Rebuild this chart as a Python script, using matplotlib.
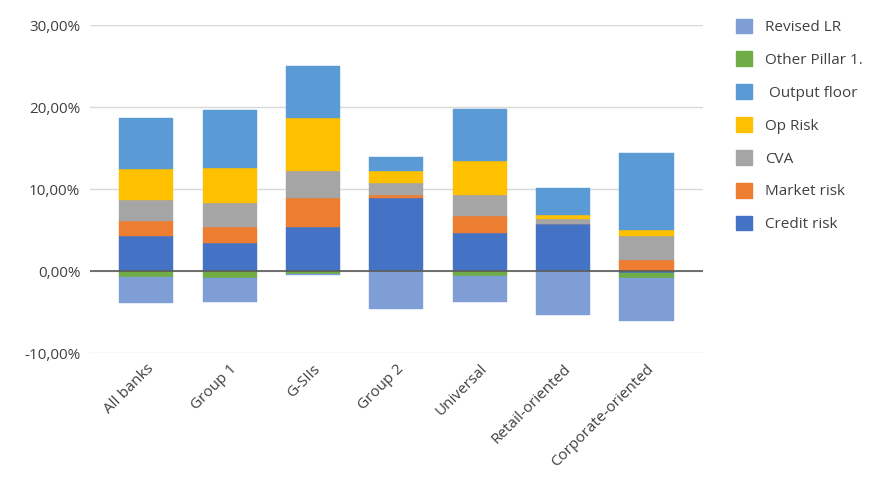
import numpy as np
import matplotlib.pyplot as plt
import matplotlib.patches as mpatches
from matplotlib.ticker import FuncFormatter

plt.rcParams['font.family'] = ['Open Sans', 'DejaVu Sans']

groups = ['All banks', 'Group 1', 'G-SIIs', 'Group 2', 'Universal',
          'Retail-oriented', 'Corporate-oriented']

# values in percent
credit_risk = [4.3, 3.4, 5.4, 8.9, 4.6, 5.7, -0.3]
market_risk = [1.8, 2.0, 3.5, 0.35, 2.1, 0.05, 1.35]
cva = [2.55, 2.9, 3.3, 1.5, 2.55, 0.55, 2.9]
op_risk = [3.75, 4.25, 6.4, 1.45, 4.15, 0.55, 0.8]
output_floor = [6.3, 7.1, 6.4, 1.75, 6.3, 3.3, 9.4]
other_pillar = [-0.7, -0.8, -0.35, -0.05, -0.6, -0.05, -0.5]
revised_lr = [-3.2, -2.95, -0.1, -4.6, -3.15, -5.3, -5.3]

series = [
    ('Credit risk', credit_risk, '#4472C4'),
    ('Market risk', market_risk, '#ED7D31'),
    ('CVA', cva, '#A5A5A5'),
    ('Op Risk', op_risk, '#FFC000'),
    (' Output floor', output_floor, '#5B9BD5'),
    ('Other Pillar 1.', other_pillar, '#70AD47'),
    ('Revised LR', revised_lr, '#7F9ED6'),
]

fig = plt.figure(figsize=(8.74, 4.82), dpi=100)
ax = fig.add_axes([0.103, 0.2676, 0.701, 0.6805])

x = np.arange(len(groups))
pos_base = np.zeros(len(groups))
neg_base = np.zeros(len(groups))
handles = []
for name, vals, col in series:
    v = np.array(vals, dtype=float)
    bottom = np.where(v >= 0, pos_base, neg_base)
    ax.bar(x, v, 0.65, bottom=bottom, color=col, edgecolor=col, linewidth=0.3, zorder=3)
    pos_base = pos_base + np.where(v >= 0, v, 0)
    neg_base = neg_base + np.where(v < 0, v, 0)
    handles.append(mpatches.Patch(color=col, label=name))

ax.set_ylim(-10, 30)
ax.set_xlim(-0.675, 6.675)
ax.set_yticks([-10, 0, 10, 20, 30])
ax.yaxis.set_major_formatter(FuncFormatter(lambda v, p: f"{v:.2f}%".replace('.', ',')))
ax.grid(axis='y', color='#D9D9D9', linewidth=1, zorder=0)
ax.axhline(0, color='#595959', linewidth=1.2, zorder=4)
for s in ax.spines.values():
    s.set_visible(False)
ax.tick_params(axis='both', length=0, labelsize=11, colors='#404040')
ax.tick_params(axis='y', pad=7)
ax.tick_params(axis='x', pad=6)
ax.set_xticks(x)
ax.set_xticklabels(groups, rotation=45, ha='right', rotation_mode='anchor')

leg = fig.legend(handles=handles[::-1], loc='upper left',
                 bbox_to_anchor=(0.826, 0.99), frameon=False,
                 handlelength=1.1, handleheight=1.1, handletextpad=0.85,
                 labelspacing=1.07, fontsize=11, labelcolor='#404040')

fig.savefig('out.png', dpi=100)
